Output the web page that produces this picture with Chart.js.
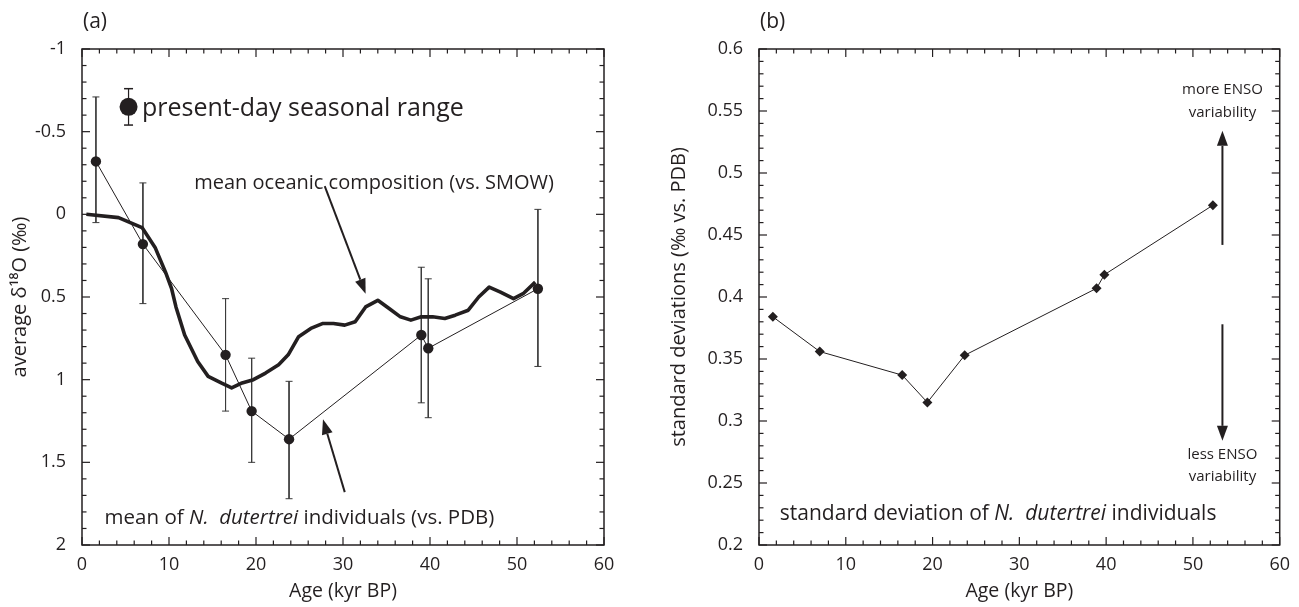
<!DOCTYPE html>
<html>
<head>
<meta charset="utf-8">
<script src="https://cdn.jsdelivr.net/npm/chart.js@4.4.1/dist/chart.umd.min.js"></script>
<style>
  body { margin: 0; background: #fff; width: 1299px; height: 607px; overflow: hidden; display: flex; }
  canvas { display: block; }
</style>
</head>
<body>
<canvas id="canvas-a" width="650" height="607"></canvas>
<canvas id="canvas-b" width="649" height="607"></canvas>
<script>
// ---- data ----
// (a) mean delta-18O of N. dutertrei individuals, with 1-sigma ranges
const ndAge  = [1.6, 7.0, 16.5, 19.5, 23.8, 39.0, 39.8, 52.4];
const ndMean = [-0.32, 0.18, 0.85, 1.19, 1.36, 0.73, 0.81, 0.45];
const ndTop  = [-0.71, -0.19, 0.51, 0.87, 1.01, 0.32, 0.39, -0.03];
const ndBot  = [0.05, 0.54, 1.19, 1.50, 1.72, 1.14, 1.23, 0.92];

// (a) mean oceanic composition (thick curve)
const oceanAge = [0.5, 4.2, 6.9, 8.4, 9.6, 10.3, 10.8, 11.8, 13.3, 14.5, 16.0, 17.2, 18.4, 19.7,
                  21.1, 22.6, 23.7, 24.9, 26.3, 27.7, 28.9, 30.2, 31.4, 32.6, 34.0, 35.3, 36.6,
                  37.8, 39.0, 40.3, 41.7, 42.9, 44.4, 45.6, 46.8, 48.1, 49.6, 50.7, 52.1];
const oceanVal = [0.00, 0.02, 0.08, 0.20, 0.35, 0.45, 0.56, 0.73, 0.89, 0.98, 1.02, 1.05, 1.02, 1.00,
                  0.96, 0.91, 0.85, 0.74, 0.69, 0.66, 0.66, 0.67, 0.65, 0.56, 0.52, 0.57, 0.62,
                  0.64, 0.62, 0.62, 0.63, 0.61, 0.58, 0.50, 0.44, 0.47, 0.51, 0.48, 0.41];

// (a) present-day seasonal range symbol
const presentAge = [5.35];
const presentVal = [-0.65];
const presentTop = [-0.76];
const presentBot = [-0.54];

// (b) standard deviation of N. dutertrei individuals
const sdAge = [1.6, 7.0, 16.5, 19.4, 23.7, 38.9, 39.8, 52.3];
const sdVal = [0.384, 0.356, 0.337, 0.315, 0.353, 0.407, 0.418, 0.474];

// axes
const xTicks  = [0, 10, 20, 30, 40, 50, 60];
const xLabels = ['0', '10', '20', '30', '40', '50', '60'];
const yTicksA  = [-1, -0.5, 0, 0.5, 1, 1.5, 2];
const yLabelsA = ['-1', '-0.5', '0', '0.5', '1', '1.5', '2'];
const yTicksB  = [0.2, 0.25, 0.3, 0.35, 0.4, 0.45, 0.5, 0.55, 0.6];
const yLabelsB = ['0.2', '0.25', '0.3', '0.35', '0.4', '0.45', '0.5', '0.55', '0.6'];

const INK = '#231f20';
const FONT = '"Open Sans", "DejaVu Sans", sans-serif';
Chart.defaults.font.family = FONT;
Chart.defaults.color = INK;

function steps(from, to, step) {
    const out = [];
    for (let v = from; v <= to + step / 2; v += step) out.push(Math.round(v * 1000) / 1000);
    return out;
}

function pts(xs, ys) {
    return xs.map((a, i) => ({ x: a, y: ys[i] }));
}

function errorBars(xs, tops, bots) {
    const out = [];
    xs.forEach((a, i) => {
        out.push({ x: a, y: tops[i] }, { x: a, y: bots[i] }, { x: a, y: null });
    });
    return out;
}

function drawArrow(ctx, x0, y0, x1, y1) {
    const ang = Math.atan2(y1 - y0, x1 - x0);
    const len = 15, half = 5.5;
    const bx = x1 - Math.cos(ang) * len, by = y1 - Math.sin(ang) * len;
    ctx.lineWidth = 2;
    ctx.beginPath();
    ctx.moveTo(x0, y0);
    ctx.lineTo(bx, by);
    ctx.stroke();
    ctx.beginPath();
    ctx.moveTo(x1, y1);
    ctx.lineTo(bx + Math.sin(ang) * half, by - Math.cos(ang) * half);
    ctx.lineTo(bx - Math.sin(ang) * half, by + Math.cos(ang) * half);
    ctx.closePath();
    ctx.fill();
}

// box frame with inward ticks on all four sides, plus arrows and text notes
const framePlugin = {
    id: 'frame',
    afterDatasetsDraw(chart, args, o) {
        const { ctx, chartArea: a, scales: { x, y } } = chart;
        ctx.save();
        ctx.strokeStyle = INK;
        ctx.fillStyle = INK;
        ctx.lineWidth = 1.5;
        ctx.strokeRect(a.left, a.top, a.right - a.left, a.bottom - a.top);
        ctx.lineWidth = 1.2;
        const seg = (x0, y0, x1, y1) => { ctx.beginPath(); ctx.moveTo(x0, y0); ctx.lineTo(x1, y1); ctx.stroke(); };
        o.xMinor.forEach(v => {
            const len = o.xMajor.includes(v) ? 8 : 4.5;
            const px = x.getPixelForValue(v);
            seg(px, a.bottom, px, a.bottom - len);
            seg(px, a.top, px, a.top + len);
        });
        o.yMinor.forEach(v => {
            const len = o.yMajor.some(m => Math.abs(m - v) < 1e-6) ? 8 : 4.5;
            const py = y.getPixelForValue(v);
            seg(a.left, py, a.left + len, py);
            seg(a.right, py, a.right - len, py);
        });

        (o.arrows || []).forEach(r => drawArrow(ctx,
            x.getPixelForValue(r[0]), y.getPixelForValue(r[1]),
            x.getPixelForValue(r[2]), y.getPixelForValue(r[3])));

        ctx.textBaseline = 'middle';
        (o.notes || []).forEach(n => {
            let px = x.getPixelForValue(n.x);
            const py = y.getPixelForValue(n.y);
            const parts = n.parts;
            const fontOf = p => (p.i ? 'italic ' : '') + n.size + 'px ' + FONT;
            if (n.align === 'center') {
                let w = 0;
                parts.forEach(p => { ctx.font = fontOf(p); w += ctx.measureText(p.t).width; });
                px -= w / 2;
            }
            ctx.textAlign = 'left';
            parts.forEach(p => {
                ctx.font = fontOf(p);
                ctx.fillText(p.t, px, py);
                px += ctx.measureText(p.t).width;
            });
        });

        if (o.panel) {
            ctx.font = '21px ' + FONT;
            ctx.textAlign = 'left';
            ctx.fillText(o.panel, a.left + 1, 22);
        }
        ctx.restore();
    }
};

function xScale() {
    return {
        type: 'linear', min: 0, max: 60,
        afterBuildTicks: s => { s.ticks = xTicks.map(v => ({ value: v })); },
        afterFit: s => { s.height = 62; },
        grid: { display: false, drawTicks: false },
        border: { display: false },
        ticks: { padding: 9, color: INK, font: { size: 18 }, maxRotation: 0, autoSkip: false,
                 callback: (v, i) => xLabels[i] },
        title: { display: true, text: 'Age (kyr BP)', color: INK, font: { size: 19.5 },
                 padding: { top: 0, bottom: 4 } }
    };
}

function yScale(ticks, labels, min, max, reverse, width, title, titlePad) {
    return {
        type: 'linear', min: min, max: max, reverse: reverse,
        afterBuildTicks: s => { s.ticks = ticks.map(v => ({ value: v })); },
        afterFit: s => { s.width = width; },
        grid: { display: false, drawTicks: false },
        border: { display: false },
        ticks: { padding: 16, color: INK, font: { size: 18 }, autoSkip: false,
                 callback: (v, i) => labels[i] },
        title: { display: true, text: title, color: INK, font: { size: 20 },
                 padding: { top: titlePad, bottom: 0 } }
    };
}

const common = {
    responsive: false,
    animation: false,
    events: [],
    plugins: { legend: { display: false }, tooltip: { enabled: false } }
};

// ---- panel (a) ----
new Chart(document.getElementById('canvas-a'), {
    type: 'scatter',
    data: {
        datasets: [
            {
                data: errorBars(presentAge, presentTop, presentBot),
                showLine: true, spanGaps: false, borderColor: INK, borderWidth: 1.2,
                pointStyle: 'line', pointRadius: 4.5, pointBorderColor: INK, pointBorderWidth: 1.5,
                order: 1
            },
            {
                data: pts(presentAge, presentVal),
                showLine: false, pointRadius: 9, pointBackgroundColor: INK, pointBorderWidth: 0,
                order: 0
            },
            {
                data: errorBars(ndAge, ndTop, ndBot),
                showLine: true, spanGaps: false, borderColor: '#3c3c3c', borderWidth: 1,
                pointStyle: 'line', pointRadius: 3.5, pointBorderColor: '#3c3c3c', pointBorderWidth: 1,
                order: 4
            },
            {
                data: pts(oceanAge, oceanVal),
                showLine: true, borderColor: INK, borderWidth: 3.6, pointRadius: 0, tension: 0,
                borderJoinStyle: 'round', order: 3
            },
            {
                data: pts(ndAge, ndMean),
                showLine: true, borderColor: INK, borderWidth: 1, tension: 0,
                pointRadius: 5.2, pointBackgroundColor: INK, pointBorderWidth: 0, order: 2
            }
        ]
    },
    options: Object.assign({}, common, {
        layout: { padding: { left: 0, top: 49, right: 46, bottom: 0 } },
        scales: {
            x: xScale(),
            y: yScale(yTicksA, yLabelsA, -1, 2, true, 82, 'average δ¹⁸O (‰)', 8)
        },
        plugins: Object.assign({}, common.plugins, {
            frame: {
                panel: '(a)',
                xMajor: xTicks, xMinor: steps(0, 60, 2),
                yMajor: yTicksA, yMinor: steps(-1, 2, 0.1),
                arrows: [[27.9, -0.17, 32.6, 0.48], [30.2, 1.68, 27.7, 1.24]],
                notes: [
                    { x: 6.9, y: -0.64, size: 25, parts: [{ t: 'present-day seasonal range' }] },
                    { x: 12.9, y: -0.19, size: 20, parts: [{ t: 'mean oceanic composition (vs. SMOW)' }] },
                    { x: 2.6, y: 1.84, size: 20.5, parts: [{ t: 'mean of ' }, { t: 'N.  dutertrei', i: true },
                                                            { t: ' individuals (vs. PDB)' }] }
                ]
            }
        })
    }),
    plugins: [framePlugin]
});

// ---- panel (b) ----
new Chart(document.getElementById('canvas-b'), {
    type: 'scatter',
    data: {
        datasets: [
            {
                data: pts(sdAge, sdVal),
                showLine: true, borderColor: INK, borderWidth: 1, tension: 0,
                pointStyle: 'rectRot', pointRadius: 5, pointBackgroundColor: INK, pointBorderWidth: 0
            }
        ]
    },
    options: Object.assign({}, common, {
        layout: { padding: { left: 0, top: 49, right: 18, bottom: 0 } },
        scales: {
            x: xScale(),
            y: yScale(yTicksB, yLabelsB, 0.2, 0.6, false, 109, 'standard deviations (‰ vs. PDB)', 17)
        },
        plugins: Object.assign({}, common.plugins, {
            frame: {
                panel: '(b)',
                xMajor: xTicks, xMinor: steps(0, 60, 2),
                yMajor: yTicksB, yMinor: steps(0.2, 0.6, 0.01),
                arrows: [[53.4, 0.442, 53.4, 0.534], [53.4, 0.378, 53.4, 0.284]],
                notes: [
                    { x: 53.4, y: 0.567, size: 15, align: 'center', parts: [{ t: 'more ENSO' }] },
                    { x: 53.4, y: 0.549, size: 15, align: 'center', parts: [{ t: 'variability' }] },
                    { x: 53.4, y: 0.273, size: 15, align: 'center', parts: [{ t: 'less ENSO' }] },
                    { x: 53.4, y: 0.255, size: 15, align: 'center', parts: [{ t: 'variability' }] },
                    { x: 2.4, y: 0.225, size: 21, parts: [{ t: 'standard deviation of ' },
                                                          { t: 'N.  dutertrei', i: true },
                                                          { t: ' individuals' }] }
                ]
            }
        })
    }),
    plugins: [framePlugin]
});
</script>
</body>
</html>
